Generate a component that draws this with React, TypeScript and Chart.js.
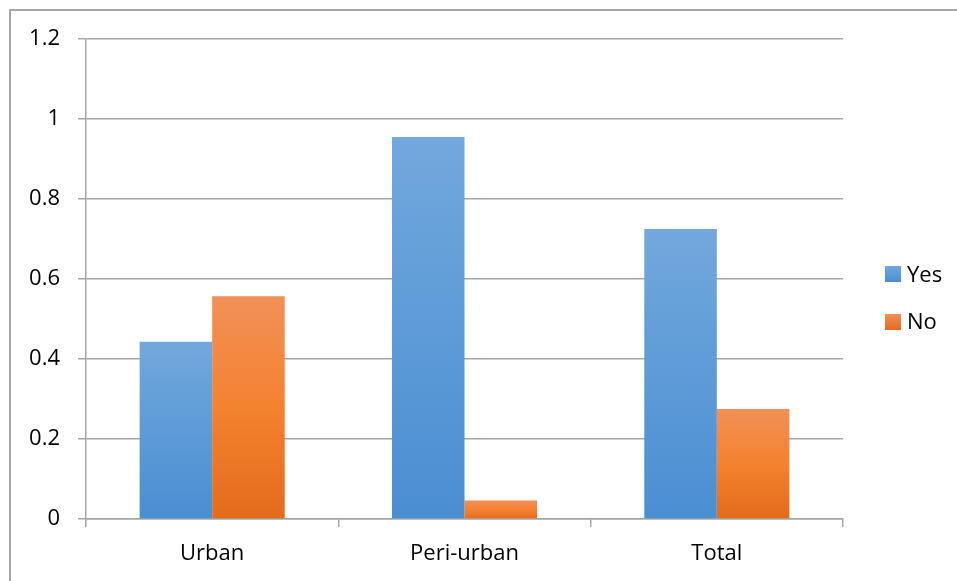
import React, { useEffect, useRef } from "react";
import { Chart, registerables } from "chart.js";

Chart.register(...registerables);

const categories = ["Urban", "Peri-urban", "Total"];
const yesValues = [0.443, 0.955, 0.725];
const noValues = [0.557, 0.046, 0.275];
const yTickLabels = ["0", "0.2", "0.4", "0.6", "0.8", "1", "1.2"];
const seriesNames = ["Yes", "No"];

const BLUE_TOP = "#72a8dd";
const BLUE_BOT = "#4a8ed2";
const ORANGE_TOP = "#f29058";
const ORANGE_MID = "#f4822f";
const ORANGE_BOT = "#e46b1c";
const FONT = "'Open Sans', 'Noto Sans', sans-serif";

function barGradient(ctx: any, top: string, bottom: string, mid?: string) {
  const chart = ctx.chart;
  const y = chart.scales && chart.scales.y;
  if (!y || ctx.raw === undefined || !chart.chartArea) return top;
  const y0 = y.getPixelForValue(ctx.raw);
  const y1 = y.getPixelForValue(0);
  if (!isFinite(y0) || !isFinite(y1) || y0 === y1) return top;
  const g = chart.ctx.createLinearGradient(0, y0, 0, y1);
  g.addColorStop(0, top);
  if (mid) g.addColorStop(0.5, mid);
  g.addColorStop(1, bottom);
  return g;
}

export default function App() {
  const ref = useRef<HTMLCanvasElement | null>(null);

  useEffect(() => {
    document.body.style.overflow = "hidden";
    const canvas = ref.current;
    if (!canvas) return;
    const chart = new Chart(canvas, {
      type: "bar",
      data: {
        labels: categories,
        datasets: [
          {
            label: seriesNames[0],
            data: yesValues,
            backgroundColor: (c: any) => barGradient(c, BLUE_TOP, BLUE_BOT),
            borderWidth: 0,
            categoryPercentage: 0.575,
            barPercentage: 1,
          },
          {
            label: seriesNames[1],
            data: noValues,
            backgroundColor: (c: any) => barGradient(c, ORANGE_TOP, ORANGE_BOT, ORANGE_MID),
            borderWidth: 0,
            categoryPercentage: 0.575,
            barPercentage: 1,
          },
        ],
      },
      options: {
        responsive: false,
        animation: false,
        devicePixelRatio: 1,
        layout: { padding: { left: 0, top: 39, right: 114, bottom: 0 } },
        plugins: {
          legend: { display: false },
          tooltip: { enabled: false },
        },
        scales: {
          x: {
            grid: {
              display: true,
              drawOnChartArea: false,
              drawTicks: true,
              tickLength: 8,
              color: "#a6a6a6",
              lineWidth: 1.5,
              offset: true,
            },
            border: { display: true, color: "#a6a6a6", width: 1.5 },
            ticks: {
              color: "#000",
              font: { family: FONT, size: 22 },
              padding: 14,
              maxRotation: 0,
            },
            afterFit: (scale: any) => {
              scale.height = 62;
            },
          },
          y: {
            min: 0,
            max: 1.2,
            grid: {
              color: "#a6a6a6",
              lineWidth: 1.5,
              drawTicks: true,
              tickLength: 8,
            },
            border: { display: true, color: "#a6a6a6", width: 1.5 },
            ticks: {
              stepSize: 0.2,
              color: "#000",
              font: { family: FONT, size: 22 },
              padding: 18,
              callback: (_v: any, i: number) => yTickLabels[i],
            },
            afterFit: (scale: any) => {
              scale.width = 86;
            },
          },
        },
      },
    });
    return () => chart.destroy();
  }, []);

  const legendItem = (
    name: string,
    top: string,
    bottom: string,
    boxTop: number,
    textTop: number
  ) => (
    <React.Fragment key={name}>
      <div
        style={{
          position: "absolute",
          left: 885,
          top: boxTop,
          width: 16,
          height: 16,
          background: `linear-gradient(${top}, ${bottom})`,
        }}
      />
      <div
        style={{
          position: "absolute",
          left: 907,
          top: textTop,
          fontFamily: FONT,
          fontSize: 22,
          lineHeight: "22px",
          color: "#000",
          whiteSpace: "nowrap",
        }}
      >
        {name}
      </div>
    </React.Fragment>
  );

  return (
    <div style={{ position: "absolute", left: 0, top: 0, width: 957, height: 581, overflow: "hidden", background: "#fff" }}>
      <div
        style={{
          position: "absolute",
          left: 9,
          top: 9,
          width: 948,
          height: 572,
          borderLeft: "2px solid #a6a6a6",
          borderTop: "2px solid #a6a6a6",
          boxSizing: "border-box",
        }}
      />
      <canvas ref={ref} width={957} height={581} style={{ position: "absolute", left: 0, top: 0 }} />
      {legendItem(seriesNames[0], BLUE_TOP, BLUE_BOT, 266, 261.5)}
      {legendItem(seriesNames[1], ORANGE_TOP, ORANGE_BOT, 314, 308.5)}
    </div>
  );
}
